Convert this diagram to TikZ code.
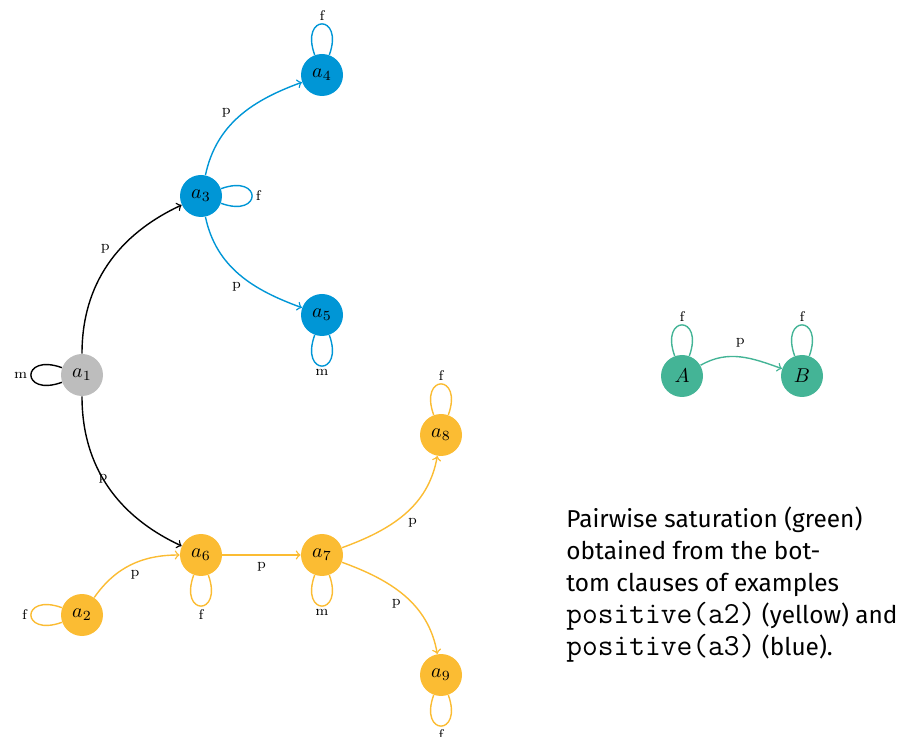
\documentclass[tikz,border=0pt]{standalone}
\usepackage{fontspec}
\newfontfamily\captionfont{Fira Sans}
\usetikzlibrary{arrows}
\definecolor{cblue}{RGB}{0,150,214}
\definecolor{cgray}{RGB}{189,189,189}
\definecolor{cyellow}{RGB}{251,188,51}
\definecolor{cgreen}{RGB}{68,180,150}
\tikzset{
  state/.style={circle,minimum size=21pt,inner sep=0pt,font=\normalsize},
  lbl/.style={font=\scriptsize,inner sep=1.5pt},
  arc/.style={->,line width=0.7pt},
  selfloop/.style={loop,distance=22pt,line width=0.7pt},
}
\begin{document}
\begin{tikzpicture}[x=0.5pt,y=-0.5pt]
\useasboundingbox (0,0) rectangle (900,737);

% states
\node[state,fill=cgray]   (a1) at (82,375)  {$a_1$};
\node[state,fill=cblue]   (a3) at (201,196) {$a_3$};
\node[state,fill=cblue]   (a4) at (322,75)  {$a_4$};
\node[state,fill=cblue]   (a5) at (322,315) {$a_5$};
\node[state,fill=cyellow] (a2) at (82,615)  {$a_2$};
\node[state,fill=cyellow] (a6) at (201,555) {$a_6$};
\node[state,fill=cyellow] (a7) at (322,555) {$a_7$};
\node[state,fill=cyellow] (a8) at (441,435) {$a_8$};
\node[state,fill=cyellow] (a9) at (441,675) {$a_9$};
\node[state,fill=cgreen]  (A)  at (682,376) {$A$};
\node[state,fill=cgreen]  (B)  at (802,376) {$B$};

% root transitions
\draw[arc] (a1) to[out=90,in=205] node[lbl,pos=0.55,above left] {p} (a3);
\draw[arc] (a1) to[out=-90,in=155] node[lbl,pos=0.45,inner sep=0pt] {p} (a6);
\path (a1) edge[selfloop,out=200,in=160] node[lbl,left] {m} (a1);

% blue part
\draw[arc,cblue] (a3) to[out=78,in=200] node[lbl,pos=0.45,above left,text=black] {p} (a4);
\draw[arc,cblue] (a3) to[out=-78,in=160] node[lbl,pos=0.55,below left,text=black] {p} (a5);
\path (a3) edge[selfloop,cblue,out=20,in=-20] node[lbl,right,text=black] {f} (a3);
\path (a4) edge[selfloop,cblue,out=110,in=70] node[lbl,above,text=black] {f} (a4);
\path (a5) edge[selfloop,cblue,out=-70,in=-110] node[lbl,below,text=black] {m} (a5);

% yellow part
\draw[arc,cyellow] (a2) to[out=55,in=180] node[lbl,pos=0.45,below right,text=black] {p} (a6);
\draw[arc,cyellow] (a6) -- node[lbl,below=2pt,text=black] {p} (a7);
\draw[arc,cyellow] (a7) to[out=20,in=-100] node[lbl,pos=0.5,below right,text=black] {p} (a8);
\draw[arc,cyellow] (a7) to[out=-20,in=100] node[lbl,pos=0.5,below left,text=black] {p} (a9);
\path (a2) edge[selfloop,cyellow,out=200,in=160] node[lbl,left,text=black] {f} (a2);
\path (a6) edge[selfloop,cyellow,out=-70,in=-110] node[lbl,below,text=black] {f} (a6);
\path (a7) edge[selfloop,cyellow,out=-70,in=-110] node[lbl,below,text=black] {m} (a7);
\path (a8) edge[selfloop,cyellow,out=110,in=70] node[lbl,above,text=black] {f} (a8);
\path (a9) edge[selfloop,cyellow,out=-70,in=-110] node[lbl,below,text=black] {f} (a9);

% saturation
\draw[arc,cgreen] (A) to[out=30,in=160] node[lbl,above=3pt,text=black] {p} (B);
\path (A) edge[selfloop,cgreen,out=110,in=70] node[lbl,above,text=black] {f} (A);
\path (B) edge[selfloop,cgreen,out=110,in=70] node[lbl,above,text=black] {f} (B);

% caption
\node[anchor=north west,inner sep=0pt,align=left,
      font={\captionfont\fontsize{12.2}{16}\selectfont}] (cap) at (566,506)
  {Pairwise saturation (green)\\
   obtained from the bot-\\
   tom clauses of examples\\
   {\ttfamily\fontsize{15.3}{16}\selectfont positive(a2)} (yellow) and\\
   {\ttfamily\fontsize{15.3}{16}\selectfont positive(a3)} (blue).};
\end{tikzpicture}
\end{document}
